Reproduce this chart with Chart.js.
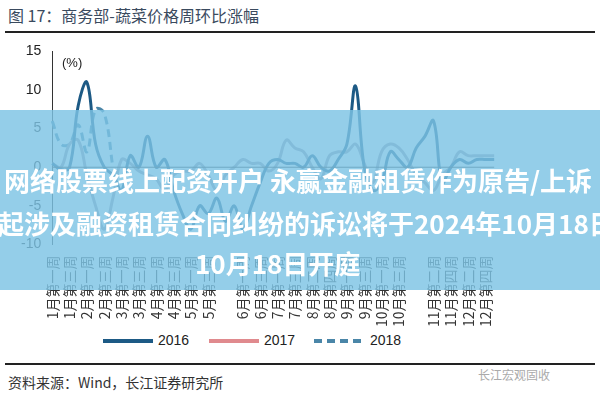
<!DOCTYPE html>
<html><head><meta charset="utf-8">
<script src="https://cdn.jsdelivr.net/npm/chart.js@4/dist/chart.umd.min.js"></script>
<style>
body{margin:0;width:600px;height:400px;background:#fff;position:relative;overflow:hidden;font-family:"Liberation Sans","Noto Sans CJK SC",sans-serif}
#title{position:absolute;left:8px;top:3px;font-size:16px;color:#3a4a5e;font-family:"Noto Sans CJK SC";}
.rule{position:absolute;left:5px;width:590px;height:2px;background:#222}
#wrap{position:absolute;left:0;top:40px;width:514px;height:290px}
#src{position:absolute;left:8px;top:372px;font-size:14px;color:#333;font-family:"Noto Sans CJK SC"}
#wm{position:absolute;left:478px;top:366px;font-size:12px;color:#aaa;font-family:"Noto Sans CJK SC"}
#band{position:absolute;left:0;top:110px;width:600px;height:180px;background:rgba(125,195,228,0.82)}
.bt{position:absolute;white-space:nowrap;color:#fff;font-weight:bold;font-size:26px;font-family:"Noto Sans CJK SC"}
#pct{position:absolute;left:62px;top:55px;font-size:13px;color:#222}
#leg{position:absolute;top:332px;left:100px;font-size:14px;color:#222}
#leg span{position:absolute;top:0}
</style></head><body>
<div id="title">图 17：商务部-蔬菜价格周环比涨幅</div>
<div class="rule" style="top:31px"></div>
<div id="wrap"><canvas id="c"></canvas></div>
<div id="pct">(%)</div>
<div id="leg">
<svg width="420" height="20" style="position:absolute;left:0;top:0">
<line x1="3" y1="9" x2="53" y2="9" stroke="#1d5a85" stroke-width="4"/>
<line x1="109" y1="9" x2="159" y2="9" stroke="#e08a8e" stroke-width="4"/>
<line x1="214" y1="9" x2="264" y2="9" stroke="#4a86a8" stroke-width="4" stroke-dasharray="8,5"/>
</svg>
<span style="left:58px">2016</span><span style="left:164px">2017</span><span style="left:270px">2018</span>
</div>
<div class="rule" style="top:363px;height:1.5px"></div>
<div id="src">资料来源：Wind，长江证券研究所</div>
<div id="wm">长江宏观固收</div>
<div id="band">
<div class="bt" style="left:4px;top:51px">网络股票线上配资开户 永赢金融租赁作为原告/上诉</div>
<div class="bt" style="left:-2px;top:94px">起涉及融资租赁合同纠纷的诉讼将于2024年10月18日</div>
<div class="bt" style="left:195px;top:134px">10月18日开庭</div>
</div>
<script>
const slotLabels=["1月第一周","1月第三周","2月第一周","2月第三周","3月第一周","3月第三周","4月第一周","4月第三周","5月第一周","5月第三周","","6月第一周","6月第三周","7月第一周","7月第三周","8月第二周","8月第四周","9月第一周","9月第三周","10月第一周","10月第三周","","11月第二周","11月第四周","12月第二周","12月第四周"];
const weeks=[];for(let i=0;i<52;i++)weeks.push(i%2===0?slotLabels[i/2]:"");
const s2016=[0.5,-0.3,0,8,11,3,0,-1,-3,1.5,0,4,0,1,-3,-6,-8,-5,-6,-4,-7,-5,-8,-5,-2,0.5,1,0.5,0.5,0,1.5,0,-0.5,1,3,10.5,0,-3,-2,2,1,0,2.5,4,6,-2,0,1,0.5,1,1,1];
const s2017=[0.5,0,3,3.5,-1,-5,-8,-4,1,0.5,-0.5,-1,-1.5,-3,-1,-0.5,-0.5,0.5,-1,-3,-1,0,1,0.5,0.5,-0.5,0.5,3.5,2.5,2,0,-1.5,1.5,2,2,3,0.5,-2,2,3,2.5,1,-1,-2,-3,-1,0,2,1.5,1.5,1.5,1.5];
const s2018=[6,3,3,5.5,2,7.5,7,0];
new Chart(document.getElementById('c'),{type:'line',
data:{labels:weeks,datasets:[
{label:'2016',data:s2016,borderColor:'#1d5a85',borderWidth:3,pointRadius:0,tension:0.4},
{label:'2017',data:s2017,borderColor:'#9b9aae',borderWidth:3,pointRadius:0,tension:0.4},
{label:'2018',data:s2018,borderColor:'#4a86a8',borderWidth:3,borderDash:[8,5],pointRadius:0,tension:0.4}]},
options:{animation:false,responsive:true,maintainAspectRatio:false,
layout:{padding:{left:18,right:8,top:6}},
plugins:{legend:{display:false}},
scales:{y:{min:-10,max:15,ticks:{stepSize:5,color:'#222',font:{size:14}},grid:{display:false},border:{color:'#333'}},
x:{grid:{display:false},border:{display:false},ticks:{autoSkip:false,maxRotation:90,minRotation:90,color:'#333',font:{size:14,family:'Noto Sans CJK SC'}}}}},
plugins:[{id:'zero',afterDatasetsDraw(ch){const y=ch.scales.y.getPixelForValue(0),a=ch.chartArea,c=ch.ctx;c.save();c.strokeStyle='#333';c.lineWidth=1;c.beginPath();c.moveTo(a.left,y);c.lineTo(a.right,y);c.stroke();c.restore();}}]
});
</script></body></html>
